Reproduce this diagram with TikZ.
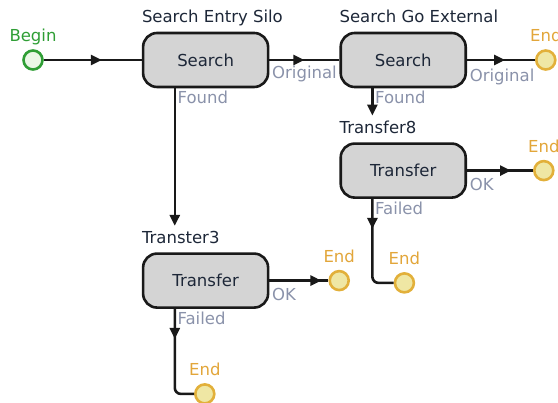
\documentclass[tikz,border=0pt]{standalone}
\usepackage{fontspec}
\setmainfont{DejaVu Sans}
\usetikzlibrary{positioning,arrows.meta,decorations.markings}

\definecolor{boxgray}{HTML}{D4D4D4}
\definecolor{startgreen}{HTML}{2F9E35}
\definecolor{startfill}{HTML}{EAF7E6}
\definecolor{stopgold}{HTML}{E2B03A}
\definecolor{stopfill}{HTML}{EFE7A4}
\definecolor{stoptext}{HTML}{E2A63A}
\definecolor{tagblue}{HTML}{8A92AA}
\definecolor{inktext}{HTML}{1D2738}

\begin{document}
\begin{tikzpicture}[x=1pt,y=1pt,
					font=\fontsize{16.5}{19}\selectfont,
					>={Triangle[length=11pt,width=10pt]},
					node distance=60pt,
					stage/.style={rectangle,rounded corners=14pt,draw=black!90,line width=2.6pt,
						fill=boxgray,text=inktext,minimum width=125pt,minimum height=54pt},
					title/.style={anchor=base west,inner sep=0pt,text=inktext},
					start node/.style={circle,draw=startgreen,line width=2.6pt,fill=startfill,
						minimum size=19pt,inner sep=0pt},
					stop node/.style={circle,draw=stopgold,line width=2.6pt,fill=stopfill,
						minimum size=19pt,inner sep=0pt,
						label={[text=stoptext,text depth=0pt,label distance=4pt]above:End}},
					tag/.style={anchor=north west,inner sep=1.5pt,text=tagblue},
					flow/.style={line width=2.6pt,draw=black!90},
					tip at/.style={postaction={decorate},decoration={markings,
						mark=at position #1 with {\arrow{>}}}}]

  \useasboundingbox (0,0) rectangle (558,403);
  \clip (0,0) rectangle (558,403);

  \node[start node,label={[text=startgreen,text depth=0pt,label distance=4pt]above:Begin}] (bgn) at (33,343) {};
  \node[stage] (srch1) [right=98pt of bgn] {Search};
  \node[stage] (srch2) [right=70pt of srch1] {Search};
  \node[stage] (xfer8) [below=54pt of srch2] {Transfer};
  \node[stage] (xfer3) [below=164pt of srch1] {Transfer};
  \node[stop node] (end1) [right=68pt of srch2] {};
  \node[stop node] (end2) [right=66pt of xfer8] {};
  \node[stop node] (end4) [right=59pt of xfer3] {};

  \node[title] (t1) at ([yshift=9pt]srch1.north west) {Search Entry Silo};
  \node[title] (t2) at ([yshift=9pt]srch2.north west) {Search Go External};
  \node[title] (t8) at ([yshift=9pt]xfer8.north west) {Transfer8};
  \node[title] (t3) at ([yshift=9pt]xfer3.north west) {Transter3};

  \coordinate (fnd1) at ([xshift=33pt]srch1.south west);
  \coordinate (fnd2) at ([xshift=33pt]srch2.south west);
  \coordinate (fail8) at ([xshift=33pt]xfer8.south west);
  \coordinate (fail3) at ([xshift=33pt]xfer3.south west);
  \node[stop node] (end3) at ([shift={(32pt,-84pt)}]fail8) {};
  \node[stop node] (end5) at ([shift={(30pt,-85pt)}]fail3) {};

  \draw[flow,tip at=58pt] (bgn) -- (srch1);
  \draw[flow,tip at=35pt] (srch1) -- node[tag,pos=0,yshift=-3pt] {Original} (srch2);
  \draw[flow,tip at=38pt] (srch2) -- node[tag,pos=0,yshift=-6pt] {Original} (end1);
  \draw[flow,->,shorten >=5pt] (fnd1) -- node[tag,pos=0] {Found} (fnd1 |- t3.north);
  \draw[flow,->,shorten >=5pt] (fnd2) -- node[tag,pos=0] {Found} (fnd2 |- t8.north);
  \draw[flow,tip at=44pt] (xfer8) -- node[tag,pos=0,yshift=-5pt] {OK} (end2);
  \draw[flow,tip at=52pt] (xfer3) -- node[tag,pos=0,yshift=-5pt] {OK} (end4);
  \draw[flow,rounded corners=6pt,tip at=30pt] (fail8) |- node[tag,pos=0] {Failed} (end3);
  \draw[flow,rounded corners=6pt,tip at=30pt] (fail3) |- node[tag,pos=0] {Failed} (end5);
\end{tikzpicture}
\end{document}
